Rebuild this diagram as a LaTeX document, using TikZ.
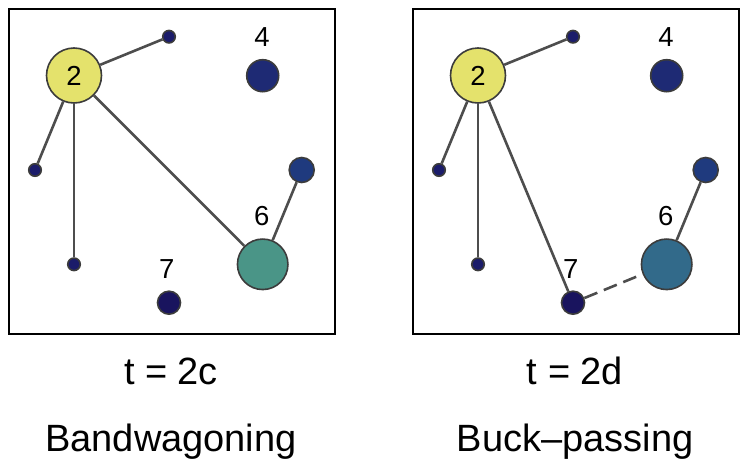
\documentclass[tikz,border=0pt]{standalone}
\usepackage{fontspec}
\setmainfont{Liberation Sans}
\definecolor{edgecol}{HTML}{4D4D4D}
\definecolor{rimcol}{HTML}{3C3C3C}
\definecolor{cyellow}{HTML}{E4E26C}
\definecolor{cteal}{HTML}{4A9587}
\definecolor{cpetrol}{HTML}{326A8A}
\definecolor{cnavy}{HTML}{1B1C6A}
\definecolor{cblue}{HTML}{1E2A74}
\definecolor{cmid}{HTML}{1F3A7E}
\definecolor{cdeep}{HTML}{19145E}
\tikzset{
  vert/.style={circle, draw=rimcol, line width=1.6pt, inner sep=0pt},
  link/.style={draw=edgecol, line width=2.6pt},
  numlab/.style={font=\fontsize{27.5}{27.5}\selectfont, anchor=base},
  caption/.style={font=\fontsize{38}{38}\selectfont, anchor=base},
  frame/.style={draw=black, line width=1.8pt},
}
\begin{document}
\begin{tikzpicture}[x=1pt,y=-1pt]
\useasboundingbox (0,0) rectangle (750,466);
% ---------- left panel ----------
\draw[frame] (9,9) rectangle (335,334);
\node[vert, fill=cyellow, minimum size=55pt] (a2) at (74,75.5) {};
\node[numlab] at (74,85.5) {2};
\node[vert, fill=cnavy, minimum size=12.5pt] (at) at (169,36.7) {};
\node[vert, fill=cblue, minimum size=32pt] (a4) at (262.7,75.7) {};
\node[numlab] at (262,46.7) {4};
\node[vert, fill=cnavy, minimum size=12.5pt] (al) at (35,170) {};
\node[vert, fill=cnavy, minimum size=12.5pt] (ab) at (74,264.3) {};
\node[vert, fill=cmid, minimum size=25pt] (ar) at (301.7,170) {};
\node[vert, fill=cteal, minimum size=50.5pt] (a6) at (262.7,264.3) {};
\node[numlab] at (261.7,225.7) {6};
\node[vert, fill=cdeep, minimum size=23pt] (a7) at (169,302.7) {};
\node[numlab] at (166.7,278.3) {7};
\draw[link] (a2) -- (at);
\draw[link] (a2) -- (al);
\draw[link] (a2) -- (ab);
\draw[link] (a2) -- (a6);
\draw[link] (a6) -- (ar);
\node[caption] (ta) at (171,384.3) {t = 2c};
\node[caption] (na) at (171,451.7) {Bandwagoning};
% ---------- right panel ----------
\begin{scope}[xshift=404pt]
\draw[frame] (9,9) rectangle (335,334);
\node[vert, fill=cyellow, minimum size=55pt] (b2) at (74,75.5) {};
\node[numlab] at (74,85.5) {2};
\node[vert, fill=cnavy, minimum size=12.5pt] (bt) at (169,36.7) {};
\node[vert, fill=cblue, minimum size=32pt] (b4) at (262.7,75.7) {};
\node[numlab] at (262,46.7) {4};
\node[vert, fill=cnavy, minimum size=12.5pt] (bl) at (35,170) {};
\node[vert, fill=cnavy, minimum size=12.5pt] (bb) at (74,264.3) {};
\node[vert, fill=cmid, minimum size=25pt] (br) at (301.7,170) {};
\node[vert, fill=cpetrol, minimum size=50.5pt] (b6) at (262.7,264.3) {};
\node[numlab] at (261.7,225.7) {6};
\node[vert, fill=cdeep, minimum size=23pt] (b7) at (169,302.7) {};
\node[numlab] at (166.7,278.3) {7};
\draw[link] (b2) -- (bt);
\draw[link] (b2) -- (bl);
\draw[link] (b2) -- (bb);
\draw[link] (b2) -- (b7);
\draw[link] (b6) -- (br);
\draw[link, dash pattern=on 14pt off 7pt] (b7) -- (b6);
\node[caption] (tb) at (171,384.3) {t = 2d};
\node[caption] (nb) at (171,451.7) {Buck–passing};
\end{scope}
\end{tikzpicture}
\end{document}
